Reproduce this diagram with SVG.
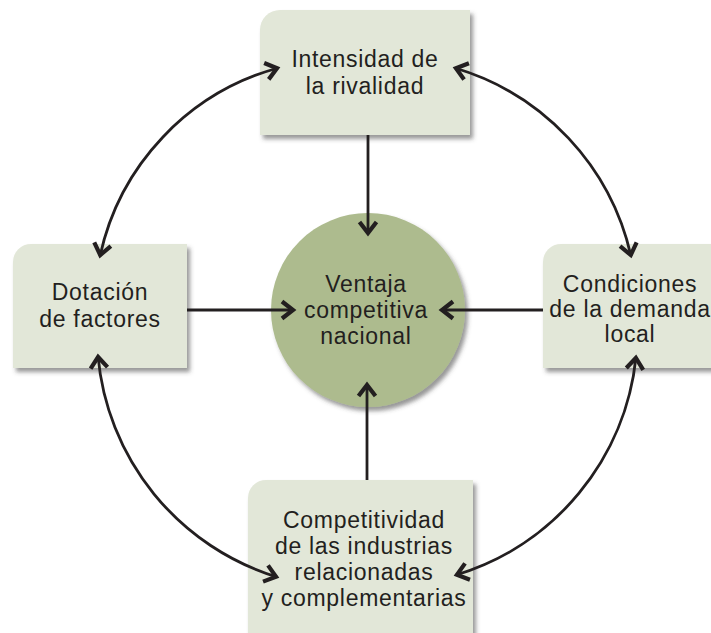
<svg xmlns="http://www.w3.org/2000/svg" width="711" height="633" viewBox="0 0 711 633">
<style>
.box{fill:#e2e7d8;filter:url(#sh)}
.circ{fill:#adbb8e;filter:url(#sh)}
.t{font-family:"Liberation Sans",Arial,sans-serif;font-size:23px;letter-spacing:0.7px;fill:#231f20;text-anchor:middle}
.c{fill:none;stroke:#231f20;stroke-width:2.8;marker-end:url(#ah)}
.c2{fill:none;stroke:#231f20;stroke-width:2.8;marker-start:url(#ah);marker-end:url(#ah)}
</style>
<defs>
<filter id="sh" x="-10%" y="-10%" width="130%" height="130%">
<feDropShadow dx="3" dy="4" stdDeviation="2" flood-color="#444" flood-opacity="0.55"/>
</filter>
<marker id="ah" viewBox="-16 -12 20 24" markerWidth="20" markerHeight="24" refX="1" refY="0" orient="auto-start-reverse" markerUnits="userSpaceOnUse">
<path d="M -11 -8.5 L 0 0 L -11 8.5" fill="none" stroke="#231f20" stroke-width="4.2"/>
</marker>
</defs>
<rect width="711" height="633" fill="#ffffff"/>
<g id="node-rivalidad">
<path class="box" d="M260 30 A20 20 0 0 1 280 10 L470 10 L470 135 L260 135 Z"/>
<text class="t" x="365" y="67">Intensidad de</text>
<text class="t" x="365" y="94">la rivalidad</text>
</g>
<g id="node-factores">
<path class="box" d="M13 262 A18 18 0 0 1 31 244 L187 244 L187 368 L13 368 Z"/>
<text class="t" x="100" y="300">Dotación</text>
<text class="t" x="100" y="327">de factores</text>
</g>
<g id="node-demanda">
<path class="box" d="M543 262 A18 18 0 0 1 561 244 L730 244 L730 368 L543 368 Z"/>
<text class="t" x="630" y="292">Condiciones</text>
<text class="t" x="630" y="317">de la demanda</text>
<text class="t" x="630" y="342">local</text>
</g>
<g id="node-industrias">
<path class="box" d="M248 498 A18 18 0 0 1 266 480 L473 480 L473 650 L248 650 Z"/>
<text class="t" x="364" y="528">Competitividad</text>
<text class="t" x="364" y="554">de las industrias</text>
<text class="t" x="364" y="580">relacionadas</text>
<text class="t" x="364" y="606">y complementarias</text>
</g>
<g id="node-ventaja">
<circle class="circ" cx="368" cy="310" r="97"/>
<text class="t" x="366" y="292">Ventaja</text>
<text class="t" x="366" y="318">competitiva</text>
<text class="t" x="366" y="344">nacional</text>
</g>
<g id="connectors">
<path class="c" d="M368 135 L368 234"/>
<path class="c" d="M187 310 L294 310"/>
<path class="c" d="M543 310 L441 310"/>
<path class="c" d="M367 480 L367 384"/>
<path class="c2" d="M100 256 A250 250 0 0 1 278 68"/>
<path class="c2" d="M455 68 A255 255 0 0 1 631 256"/>
<path class="c2" d="M636 357 A255 255 0 0 1 456 575"/>
<path class="c2" d="M277 577 A255 255 0 0 1 98 356"/>
</g>
</svg>
